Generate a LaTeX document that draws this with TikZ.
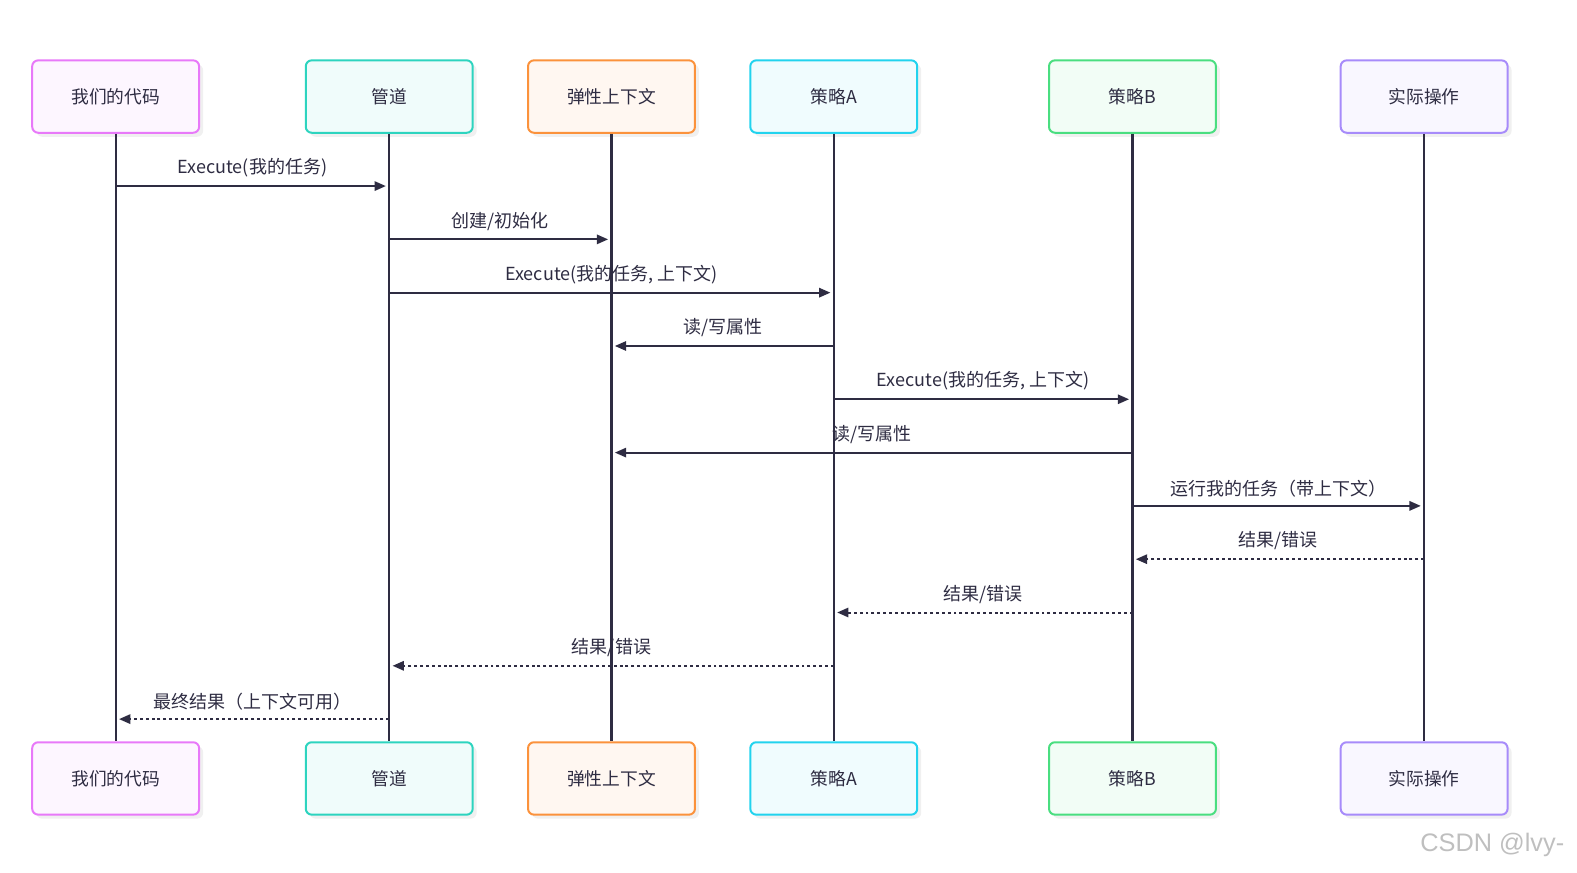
\documentclass[tikz,border=0pt]{standalone}
\usepackage{fontspec}
\setmainfont{Noto Sans CJK SC}
\newfontfamily\markfont{Liberation Sans}
\usetikzlibrary{positioning,shadows,arrows.meta}

\definecolor{ink}{HTML}{2E2C42}
\definecolor{cpink}{HTML}{E879F9}
\definecolor{cteal}{HTML}{2DD4BF}
\definecolor{corange}{HTML}{FB923C}
\definecolor{ccyan}{HTML}{22D3EE}
\definecolor{cgreen}{HTML}{4ADE80}
\definecolor{cviolet}{HTML}{A78BFA}

\tikzset{
    actor/.style={rectangle,rounded corners=4.5pt,draw=#1,fill=#1!7,line width=1.5pt,
        minimum width=125.2pt,minimum height=54.3pt,font=\fontsize{13.3}{16}\selectfont,text=ink,
        drop shadow={opacity=0.12,shadow xshift=3pt,shadow yshift=-3pt}},
    lifeline/.style={draw=ink,line width=1.6pt},
    msg/.style={draw=ink,line width=1.5pt,-{Triangle[length=8.5pt,width=7pt]},shorten >=2.5pt},
    reply/.style={msg,dash pattern=on 2.2pt off 2.2pt},
    lbl/.style={midway,above=6pt,font=\fontsize{13.5}{16}\selectfont,text=ink,inner sep=0pt}
}

\begin{document}
\begin{tikzpicture}[x=0.7543pt,y=-0.7543pt]
    \useasboundingbox (0,0) rectangle (1568,868);

    % Participants
    \node[actor=cpink]   (code) at (115,96)  {我们的代码};
    \node[actor=cteal]   (pipe) at (387,96)  {管道};
    \node[actor=corange] (ctx)  at (608,96)  {弹性上下文};
    \node[actor=ccyan]   (sta)  at (829,96)  {策略A};
    \node[actor=cgreen]  (stb)  at (1126,96) {策略B};
    \node[actor=cviolet] (op)   at (1416,96) {实际操作};

    \node[actor=cpink]   (code2) at (115,774)  {我们的代码};
    \node[actor=cteal]   (pipe2) at (387,774)  {管道};
    \node[actor=corange] (ctx2)  at (608,774)  {弹性上下文};
    \node[actor=ccyan]   (sta2)  at (829,774)  {策略A};
    \node[actor=cgreen]  (stb2)  at (1126,774) {策略B};
    \node[actor=cviolet] (op2)   at (1416,774) {实际操作};

    % Lifelines
    \foreach \p in {code,pipe,ctx,sta,stb,op}
        \draw[lifeline] (\p.south) -- (\p2.north);

    % Messages
    \draw[msg] (code |- 0,185) -- (pipe |- 0,185) node[lbl] {Execute(我的任务)};
    \draw[msg] (pipe |- 0,238) -- (ctx |- 0,238) node[lbl] {创建/初始化};
    \draw[msg] (pipe |- 0,291) -- (sta |- 0,291) node[lbl] {Execute(我的任务, 上下文)};
    \draw[msg] (sta |- 0,344) -- (ctx |- 0,344) node[lbl] {读/写属性};
    \draw[msg] (sta |- 0,397) -- (stb |- 0,397) node[lbl] {Execute(我的任务, 上下文)};
    \draw[msg] (stb |- 0,450) -- (ctx |- 0,450) node[lbl] {读/写属性};
    \draw[msg] (stb |- 0,503) -- (op |- 0,503) node[lbl] {运行我的任务（带上下文）};

    % Replies
    \draw[reply] (op |- 0,556) -- (stb |- 0,556) node[lbl] {结果/错误};
    \draw[reply] (stb |- 0,609) -- (sta |- 0,609) node[lbl] {结果/错误};
    \draw[reply] (sta |- 0,662) -- (pipe |- 0,662) node[lbl] {结果/错误};
    \draw[reply] (pipe |- 0,715) -- (code |- 0,715) node[lbl] {最终结果（上下文可用）};

    \node[font=\markfont\fontsize{19}{22}\selectfont,text=black!25,anchor=east] (mark) at (1560,840) {CSDN @lvy-};
\end{tikzpicture}
\end{document}
